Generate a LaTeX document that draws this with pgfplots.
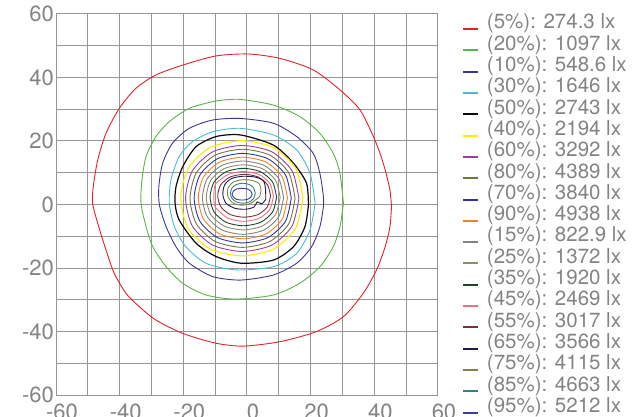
\documentclass[border=0pt]{standalone}
\usepackage{fontspec}
\setmainfont{TeX Gyre Heros}
\usepackage{pgfplots}
\pgfplotsset{compat=1.18}
\definecolor{gridgray}{RGB}{150,150,150}
\definecolor{tickgray}{RGB}{132,132,132}
\definecolor{c1}{RGB}{228,32,40}
\definecolor{c2}{RGB}{90,180,70}
\definecolor{c3}{RGB}{55,55,150}
\definecolor{c4}{RGB}{70,190,210}
\definecolor{c5}{RGB}{10,10,10}
\definecolor{c6}{RGB}{255,235,0}
\definecolor{c7}{RGB}{160,60,160}
\definecolor{c8}{RGB}{110,120,60}
\definecolor{c9}{RGB}{50,50,160}
\definecolor{c10}{RGB}{245,130,30}
\definecolor{c11}{RGB}{130,130,130}
\definecolor{c12}{RGB}{140,140,110}
\definecolor{c13}{RGB}{30,70,40}
\definecolor{c14}{RGB}{240,110,130}
\definecolor{c15}{RGB}{120,50,60}
\definecolor{c16}{RGB}{30,25,70}
\definecolor{c17}{RGB}{130,130,70}
\definecolor{c18}{RGB}{50,130,130}
\definecolor{c19}{RGB}{60,60,170}
\begin{document}
\begin{tikzpicture}
\begin{axis}[
  at={(56pt,21pt)}, anchor=south west,
  scale only axis, width=382pt, height=381pt,
  xmin=-60, xmax=60, ymin=-60, ymax=60,
  xtick={-60,-40,-20,0,20,40,60},
  xticklabels={-60,-40,-20,0,20,40,60},
  ytick={-60,-40,-20,0,20,40,60},
  yticklabels={-60,-40,-20,0,20,40,60},
  minor xtick={-50,-30,-10,10,30,50},
  minor ytick={-50,-30,-10,10,30,50},
  grid=both,
  major grid style={draw=gridgray, line width=1pt},
  minor grid style={draw=gridgray, line width=1pt},
  axis line style={draw=gridgray, line width=1pt},
  major tick length=0pt, minor tick length=0pt,
  tick label style={text=tickgray, font=\fontsize{22}{26}\selectfont},
  yticklabel style={inner sep=1pt, xshift=-1pt},
  xticklabel style={xshift=6pt, yshift=-5pt},
  legend cell align=left,
  legend style={at={(rel axis cs:1,1)}, anchor=north west, xshift=24pt,
    draw=none, fill=none, inner sep=0pt, outer sep=0pt,
    row sep=0pt, column sep=8pt,
    nodes={inner sep=0pt, text height=15pt, text depth=6.3pt, text=tickgray,
      font=\fontsize{20.5}{22}\selectfont}},
  legend image code/.code={\draw[#1, line width=2pt] (0pt,-4.5pt) -- (15pt,-4.5pt);},
  every axis plot/.append style={mark=none, line width=0.9pt, smooth, tension=0.45},
]
% 1 red
\addplot[c1] coordinates {(45.4,-0.7) (44.9,4.6) (43.4,10.9) (41.8,16.1) (39.7,21.4) (35.5,29.8) (29.2,36.1) (20.8,42.4) (10.4,46.0) (0.5,47.4) (-9.7,46.8) (-20.2,43.9) (-28.6,40.8) (-34.9,36.6) (-40.1,30.3) (-44.3,22.4) (-46.9,14.0) (-48.3,5.6) (-48.5,0.4) (-46.9,-5.9) (-44.3,-14.3) (-41.7,-21.7) (-38.0,-28.0) (-33.8,-32.2) (-28.6,-36.4) (-20.2,-40.6) (-9.7,-43.7) (-1.0,-44.6) (10.4,-43.2) (21.9,-40.0) (30.3,-35.3) (36.5,-28.0) (40.7,-20.6) (43.4,-13.3) (44.9,-7.0) (45.4,-0.7)};
\addlegendentry{(5\%): 274.3 lx}
% 2 green
\addplot[c2] coordinates {(30.3,0.4) (29.2,9.8) (27.1,16.1) (22.9,22.4) (16.6,27.7) (8.3,31.3) (-2.2,33.1) (-9.7,32.6) (-18.1,30.3) (-24.4,26.1) (-28.6,21.4) (-31.7,15.1) (-33.0,7.7) (-33.3,0.4) (-31.7,-7.0) (-29.6,-13.3) (-25.4,-19.6) (-20.2,-24.8) (-12.9,-28.5) (-3.5,-29.8) (8.3,-28.5) (16.6,-24.8) (22.9,-19.6) (27.1,-13.3) (29.2,-7.0) (30.3,0.4)};
\addlegendentry{(20\%): 1097 lx}
% 3 blue
\addplot[c3] coordinates {(24.0,-0.7) (24.0,2.5) (22.9,9.8) (20.8,16.1) (15.6,21.4) (8.3,25.6) (-2.2,27.1) (-10.8,26.6) (-18.1,24.0) (-23.4,19.3) (-26.5,13.0) (-27.7,5.6) (-27.5,-0.2) (-25.4,-7.0) (-22.3,-13.3) (-18.1,-18.5) (-10.8,-22.7) (-2.0,-23.8) (8.3,-22.2) (15.6,-18.5) (20.3,-13.3) (22.9,-7.0) (24.0,-0.7)};
\addlegendentry{(10\%): 548.6 lx}
% 4 cyan
\addplot[c4] coordinates {(21.4,0.4) (19.8,9.8) (15.6,17.2) (8.3,21.9) (-2.2,24.0) (-10.8,22.9) (-17.1,19.8) (-21.3,15.1) (-23.9,7.7) (-24.4,0.4) (-22.8,-7.0) (-19.2,-13.3) (-12.9,-18.5) (-3.5,-20.6) (8.3,-19.6) (15.6,-15.4) (19.8,-8.0) (21.4,0.4)};
\addlegendentry{(30\%): 1646 lx}
% 5 black
\addplot[c5, line width=1.2pt] coordinates {(19.3,-0.2) (18.7,6.7) (14.6,13.0) (8.3,18.7) (-2.0,21.9) (-9.7,21.4) (-16.0,18.2) (-20.2,11.9) (-22.3,5.6) (-22.6,0.4) (-21.3,-4.9) (-16.0,-12.2) (-9.7,-16.4) (-1.8,-18.5) (8.3,-17.5) (14.6,-13.3) (18.2,-7.0) (19.3,-0.2)};
\addlegendentry{(50\%): 2743 lx}
% 6 yellow
\addplot[c6, line width=1.1pt] coordinates {(17.6,1.95) (15.30,11.39) (8.38,17.92) (-1.6,20.1) (-11.58,17.92) (-18.50,11.39) (-20.8,1.95) (-18.50,-7.49) (-11.58,-14.02) (-1.6,-16.2) (8.38,-14.02) (15.30,-7.49) (17.6,1.95)};
\addlegendentry{(40\%): 2194 lx}
% 7 purple
\addplot[c7] coordinates {(16.3,1.9) (14.16,10.58) (7.76,16.60) (-1.5,18.6) (-10.76,16.60) (-17.16,10.58) (-19.3,1.9) (-17.16,-6.78) (-10.76,-12.80) (-1.5,-14.8) (7.76,-12.80) (14.16,-6.78) (16.3,1.9)};
\addlegendentry{(60\%): 3292 lx}
% 8 olive
\addplot[c8] coordinates {(15.1,1.95) (13.12,9.98) (7.18,15.55) (-1.4,17.4) (-9.98,15.55) (-15.92,9.98) (-17.9,1.95) (-15.92,-6.08) (-9.98,-11.65) (-1.4,-13.5) (7.18,-11.65) (13.12,-6.08) (15.1,1.95)};
\addlegendentry{(80\%): 4389 lx}
% 9 blue
\addplot[c9] coordinates {(13.9,2.0) (12.07,9.33) (6.58,14.41) (-1.35,16.1) (-9.28,14.41) (-14.77,9.33) (-16.6,2.0) (-14.77,-5.33) (-9.28,-10.41) (-1.35,-12.1) (6.58,-10.41) (12.07,-5.33) (13.9,2.0)};
\addlegendentry{(70\%): 3840 lx}
% 10 orange
\addplot[c10] coordinates {(12.7,2.05) (11.02,8.73) (5.98,13.36) (-1.3,14.9) (-8.58,13.36) (-13.62,8.73) (-15.3,2.05) (-13.62,-4.63) (-8.58,-9.26) (-1.3,-10.8) (5.98,-9.26) (11.02,-4.63) (12.7,2.05)};
\addlegendentry{(90\%): 4938 lx}
% 11 grey
\addplot[c11] coordinates {(11.5,2.15) (9.97,8.16) (5.38,12.31) (-1.25,13.7) (-7.88,12.31) (-12.47,8.16) (-14.0,2.15) (-12.47,-3.86) (-7.88,-8.01) (-1.25,-9.4) (5.38,-8.01) (9.97,-3.86) (11.5,2.15)};
\addlegendentry{(15\%): 822.9 lx}
% 12 grey olive
\addplot[c12] coordinates {(10.4,2.25) (9.01,7.58) (4.83,11.27) (-1.2,12.5) (-7.23,11.27) (-11.41,7.58) (-12.8,2.25) (-11.41,-3.08) (-7.23,-6.77) (-1.2,-8.0) (4.83,-6.77) (9.01,-3.08) (10.4,2.25)};
\addlegendentry{(25\%): 1372 lx}
% 13 dark green
\addplot[c13] coordinates {(9.3,2.35) (8.05,7.06) (4.28,10.31) (-1.15,11.4) (-6.58,10.31) (-10.35,7.06) (-11.6,2.35) (-10.35,-2.36) (-6.58,-5.61) (-1.15,-6.7) (4.28,-5.61) (8.05,-2.36) (9.3,2.35)};
\addlegendentry{(35\%): 1920 lx}
% 14 pink
\addplot[c14] coordinates {(8.3,2.55) (7.18,6.63) (3.81,9.46) (-1.05,10.4) (-5.91,9.46) (-9.9,6.4) (-10.4,2.55) (-9.9,-0.9) (-5.91,-4.36) (-1.05,-5.3) (3.81,-4.36) (7.18,-1.53) (8.3,2.55)};
\addlegendentry{(45\%): 2469 lx}
% 15 maroon
\addplot[c15] coordinates {(7.4,2.75) (6.40,6.26) (3.42,8.69) (-0.9,9.5) (-5.22,8.69) (-8.20,6.26) (-9.2,2.75) (-8.20,-0.76) (-5.22,-3.19) (-0.9,-4.0) (3.42,-3.19) (6.40,-0.76) (7.4,2.75)};
\addlegendentry{(55\%): 3017 lx}
% 16 navy
\addplot[c16] coordinates {(5.9,1.6) (5.8,5.0) (5.2,7.4) (2.8,8.6) (-1.2,8.9) (-4.8,8.2) (-7.0,6.2) (-7.6,3.2) (-6.6,0.4) (-3.8,-1.2) (-0.5,-1.5) (2.2,-0.8) (3.2,0.8) (4.6,0.2) (5.9,1.6)};
\addlegendentry{(65\%): 3566 lx}
% 17 olive
\addplot[c17] coordinates {(4.4,4.6) (3.8,6.6) (1.6,7.6) (-1.5,7.8) (-4.4,7.0) (-6.0,5.0) (-6.0,2.6) (-4.6,0.6) (-2.0,-0.2) (0.8,0.2) (2.6,1.4) (4.0,2.6) (4.4,4.6)};
\addlegendentry{(75\%): 4115 lx}
% 18 teal
\addplot[c18] coordinates {(2.6,3.55) (2.1,5.2) (0.7,6.3) (-1.3,6.7) (-3.3,6.3) (-4.7,5.2) (-5.2,3.55) (-4.7,1.9) (-3.3,0.8) (-1.3,0.4) (0.7,0.8) (2.1,1.9) (2.6,3.55)};
\addlegendentry{(85\%): 4663 lx}
% 19 blue
\addplot[c19] coordinates {(1.6,3.25) (1.2,4.2) (0.1,4.9) (-1.55,5.1) (-3.2,4.9) (-4.3,4.2) (-4.7,3.25) (-4.3,2.3) (-3.2,1.6) (-1.55,1.4) (0.1,1.6) (1.2,2.3) (1.6,3.25)};
\addlegendentry{(95\%): 5212 lx}
\end{axis}
\pgfresetboundingbox
\path[use as bounding box] (0,0) rectangle (635pt,416pt);
\end{tikzpicture}
\end{document}
